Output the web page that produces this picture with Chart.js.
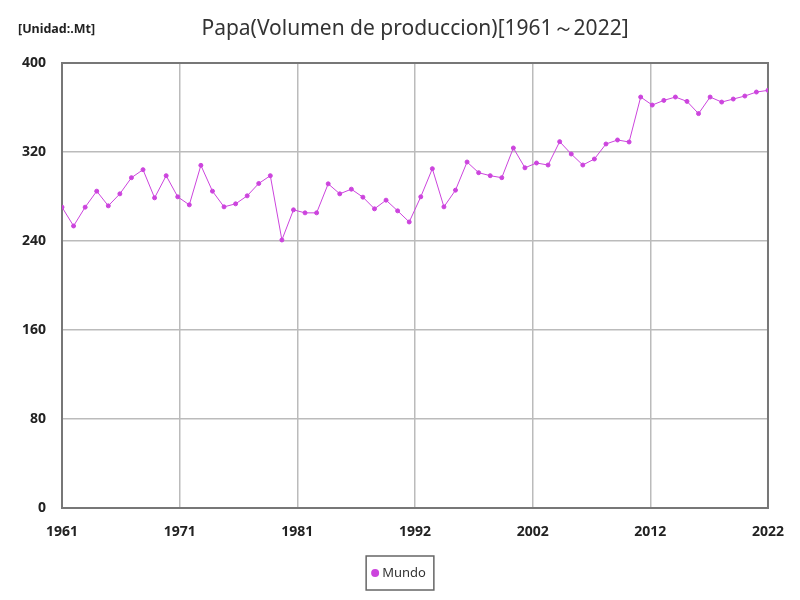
<!DOCTYPE html>
<html>
<head>
<meta charset="utf-8">
<script src="https://cdn.jsdelivr.net/npm/chart.js@4/dist/chart.umd.min.js"></script>
<style>
  html, body { margin: 0; padding: 0; background: #fff; }
  #wrap { width: 800px; height: 600px; position: relative; }
</style>
</head>
<body>
<div id="wrap"><canvas id="chart" width="800" height="600"></canvas></div>
<script>
// years 1961..2022
const years = [];
for (let y = 1961; y <= 2022; y++) years.push(y);

// potato production, world (Mt)
const mundo = [
  270.4, 253.5, 270.4, 284.8, 271.6, 282.4, 296.9, 304.1, 278.8, 298.7,
  279.7, 272.5, 308.0, 284.8, 270.7, 273.4, 280.6, 291.7, 298.7, 240.9,
  268.0, 265.3, 265.3, 291.4, 282.4, 286.6, 279.4, 268.9, 276.7, 267.1,
  257.1, 279.7, 305.0, 270.7, 285.7, 311.0, 301.4, 298.7, 296.9, 323.6,
  305.8, 310.1, 308.3, 329.3, 318.2, 308.3, 313.7, 327.2, 330.8, 329.0,
  369.4, 362.2, 366.4, 369.4, 365.5, 354.5, 369.4, 364.9, 367.6, 370.3,
  373.9, 375.4
];

const yTicks = [0, 80, 160, 240, 320, 400];
const lineColor = '#cc44dd';
const titleText = 'Papa(Volumen de produccion)[1961～2022]';
const unitText = '[Unidad:.Mt]';
const seriesName = 'Mundo';

// frame round the plot area, title, unit label and the boxed legend
const extras = {
  id: 'extras',
  beforeDatasetsDraw(chart) {
    const { ctx, chartArea: a } = chart;
    ctx.save();
    ctx.strokeStyle = '#777';
    ctx.lineWidth = 2;
    ctx.strokeRect(a.left, a.top, a.right - a.left, a.bottom - a.top);
    ctx.restore();
  },
  afterDraw(chart) {
    const { ctx, chartArea: a } = chart;
    ctx.save();
    ctx.textBaseline = 'middle';

    // title, centred over the plot area
    ctx.fillStyle = '#333';
    ctx.font = '21px "Noto Sans", sans-serif';
    ctx.textAlign = 'center';
    ctx.fillText(titleText, (a.left + a.right) / 2, 29);

    // unit
    ctx.fillStyle = '#222';
    ctx.font = 'bold 12.5px "Noto Sans", sans-serif';
    ctx.textAlign = 'left';
    ctx.fillText(unitText, 18, 29);

    // legend
    ctx.font = '13px "Noto Sans", sans-serif';
    const tw = ctx.measureText(seriesName).width;
    const w = tw + 24;
    const x0 = 400 - w / 2, y0 = 556, h = 34;
    ctx.strokeStyle = '#666';
    ctx.lineWidth = 1.5;
    ctx.strokeRect(x0, y0, w, h);
    ctx.fillStyle = lineColor;
    ctx.beginPath();
    ctx.arc(x0 + 9, y0 + h / 2, 4, 0, Math.PI * 2);
    ctx.fill();
    ctx.fillStyle = '#333';
    ctx.fillText(seriesName, x0 + 16, y0 + h / 2);
    ctx.restore();
  }
};

new Chart(document.getElementById('chart'), {
  type: 'line',
  data: {
    labels: years,
    datasets: [{
      label: seriesName,
      data: years.map((y, i) => ({ x: y, y: mundo[i] })),
      borderColor: lineColor,
      backgroundColor: lineColor,
      borderWidth: 1,
      pointRadius: 2,
      pointHoverRadius: 2,
      tension: 0
    }]
  },
  options: {
    responsive: false,
    animation: false,
    devicePixelRatio: 1,
    layout: { padding: { top: 63, right: 30, bottom: 44 } },
    plugins: {
      title: { display: false },
      legend: { display: false },
      tooltip: { enabled: false }
    },
    scales: {
      x: {
        type: 'linear',
        min: 1961,
        max: 2022,
        afterBuildTicks(scale) {
          const t = [];
          for (let k = 0; k <= 6; k++) t.push({ value: 1961 + 61 * k / 6 });
          scale.ticks = t;
        },
        afterFit(scale) { scale.height = 48; },
        ticks: {
          color: '#222',
          font: { size: 14, weight: 'bold', family: '"Noto Sans", sans-serif' },
          padding: 16,
          maxRotation: 0,
          callback: v => String(Math.round(v))
        },
        grid: { color: '#bbb', lineWidth: 1.5, drawTicks: false },
        border: { display: false }
      },
      y: {
        min: 0,
        max: 400,
        afterBuildTicks(scale) {
          scale.ticks = yTicks.map(v => ({ value: v }));
        },
        afterFit(scale) { scale.width = 62; },
        ticks: {
          color: '#222',
          font: { size: 14, weight: 'bold', family: '"Noto Sans", sans-serif' },
          padding: 16
        },
        grid: { color: '#bbb', lineWidth: 1.5, drawTicks: false },
        border: { display: false }
      }
    }
  },
  plugins: [extras]
});
</script>
</body>
</html>
